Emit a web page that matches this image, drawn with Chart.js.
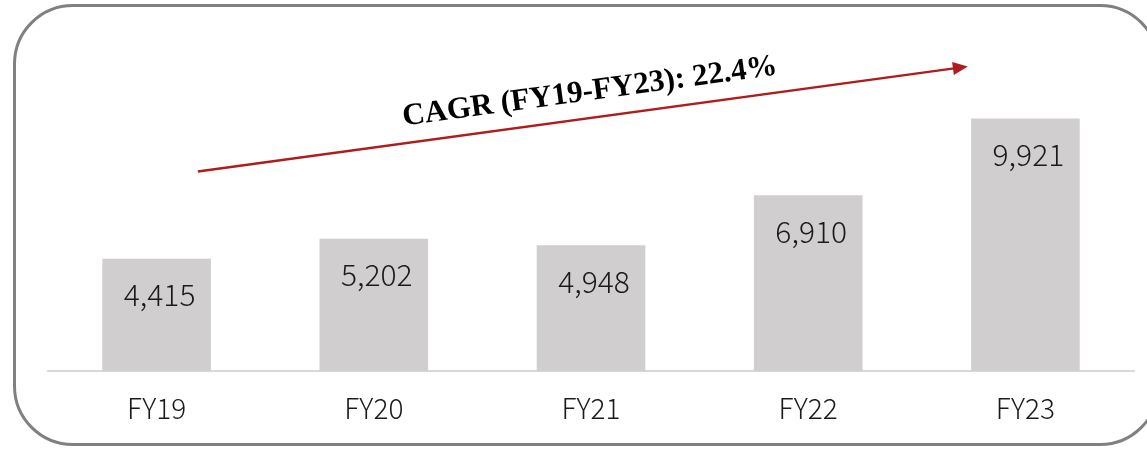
<!DOCTYPE html>
<html>
<head>
<meta charset="utf-8">
<script src="https://cdn.jsdelivr.net/npm/chart.js@4"></script>
<style>
  html, body { margin: 0; padding: 0; background: #fff; overflow: hidden; }
  #wrap { position: relative; width: 1147px; height: 449px; }
  #frame {
    position: absolute; left: 13px; top: 4px; width: 1141px; height: 436px;
    border: 3px solid #808080; border-radius: 60px;
  }
  #chart { position: absolute; left: 0; top: 0; }
</style>
</head>
<body>
<div id="wrap">
  <div id="frame"></div>
  <canvas id="chart" width="1147" height="449"></canvas>
</div>
<script>
// Chart data
const years = ['FY19', 'FY20', 'FY21', 'FY22', 'FY23'];
const revenue = [4415, 5202, 4948, 6910, 9921];
const cagrText = 'CAGR (FY19-FY23): 22.4%';
// arrow ends, in category index / value units
const arrowFrom = [0.19, 7840];
const arrowTo = [3.735, 11960];

const sansFont = '"Noto Sans CJK JP", "Noto Sans", sans-serif';

// Draws value labels inside bars and the CAGR arrow
const overlayPlugin = {
  id: 'overlay',
  afterDatasetsDraw(chart) {
    const c = chart.ctx;
    const meta = chart.getDatasetMeta(0);
    c.save();
    c.fillStyle = '#1a1a1a';
    c.font = '300 30px ' + sansFont;
    c.textAlign = 'center';
    c.textBaseline = 'middle';
    meta.data.forEach(function (bar, i) {
      c.fillText(revenue[i].toLocaleString('en-US'), bar.x + 3, bar.y + 36);
    });

    const xs = chart.scales.x, ys = chart.scales.y;
    const x1 = xs.getPixelForValue(arrowFrom[0]), y1 = ys.getPixelForValue(arrowFrom[1]);
    const x2 = xs.getPixelForValue(arrowTo[0]), y2 = ys.getPixelForValue(arrowTo[1]);
    const ang = Math.atan2(y2 - y1, x2 - x1);
    c.strokeStyle = '#b01c1c';
    c.fillStyle = '#b01c1c';
    c.lineWidth = 2.5;
    c.beginPath();
    c.moveTo(x1, y1);
    c.lineTo(x2 - 12 * Math.cos(ang), y2 - 12 * Math.sin(ang));
    c.stroke();
    c.translate(x2, y2);
    c.rotate(ang);
    c.beginPath();
    c.moveTo(0, 0);
    c.lineTo(-15, -6.5);
    c.lineTo(-15, 6.5);
    c.closePath();
    c.fill();
    c.restore();

    // rotated title along the arrow
    c.save();
    c.translate(590, 92);
    c.rotate(ang);
    c.fillStyle = '#000';
    c.font = 'bold 31px "Liberation Serif", "DejaVu Serif", serif';
    c.textAlign = 'center';
    c.textBaseline = 'middle';
    c.fillText(cagrText, 0, 0);
    c.restore();
  }
};

const ctx = document.getElementById('chart').getContext('2d');
const revenueChart = new Chart(ctx, {
  type: 'bar',
  data: {
    labels: years,
    datasets: [{
      data: revenue,
      backgroundColor: '#d0cece',
      barPercentage: 0.5,
      categoryPercentage: 1.0
    }]
  },
  options: {
    responsive: false,
    animation: false,
    layout: { padding: { left: 48, right: 13, top: 40, bottom: 4 } },
    plugins: { legend: { display: false }, tooltip: { enabled: false } },
    scales: {
      x: {
        grid: { display: false, drawTicks: false },
        border: { color: '#d9d9d9', width: 2 },
        ticks: { color: '#1a1a1a', padding: 20, font: { family: sansFont, size: 28, weight: 300 } }
      },
      y: {
        display: false,
        min: 0,
        max: 13000
      }
    }
  },
  plugins: [overlayPlugin]
});
</script>
</body>
</html>
